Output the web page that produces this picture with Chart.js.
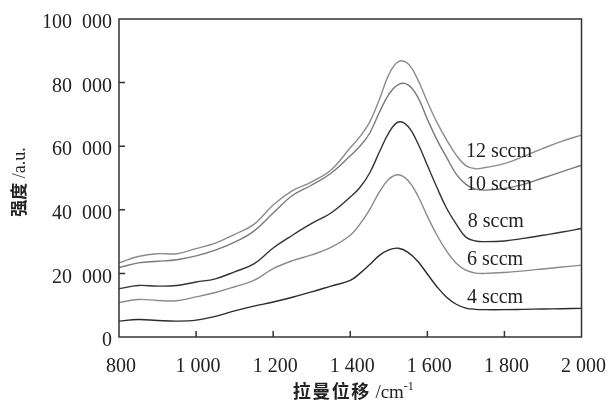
<!DOCTYPE html>
<html lang="zh">
<head>
    <meta charset="utf-8"/>
    <script src="https://cdn.jsdelivr.net/npm/chart.js@4.4.1/dist/chart.umd.min.js"></script>
    <style>
        body { margin: 0; background: #fff; }
    </style>
</head>
<body>
    <canvas id="raman" width="614" height="402"></canvas>
    <script>
        // Raman shift (cm-1) sample positions
        const ramanShift = [800, 850, 900, 950, 1000, 1050, 1100, 1150, 1200, 1250, 1300, 1350, 1400, 1425, 1450, 1475,
            1500, 1525, 1550, 1575, 1600, 1625, 1650, 1675, 1700, 1725, 1750, 1800, 1850, 1900, 1950, 2000];

        // intensity (a.u.) per flow rate
        const sccm4 = [5000, 5500, 5200, 5000, 5300, 6500, 8200, 9700, 11000, 12500, 14200, 16000, 17800, 20000, 22700, 25600,
            27400, 27900, 26600, 23800, 19800, 15800, 12500, 10300, 9100, 8700, 8600, 8600, 8700, 8800, 8900, 9000];
        const sccm6 = [10800, 11800, 11500, 11400, 12600, 14000, 15800, 17800, 21500, 24000, 25800, 28200, 32000, 35500, 40000, 45500,
            49600, 51000, 49200, 44500, 38000, 32000, 27000, 23200, 21000, 20100, 20000, 20300, 20800, 21400, 22000, 22600];
        const sccm8 = [15200, 16200, 16000, 16200, 17300, 18300, 20500, 23000, 28000, 32000, 35700, 39000, 44000, 47000, 51500, 58000,
            64200, 67600, 66200, 61000, 54000, 47000, 40500, 35500, 31400, 30200, 30000, 30200, 31000, 32000, 33000, 34100];
        const sccm10 = [21800, 23300, 23800, 24300, 25500, 27300, 29800, 33300, 39000, 44500, 47800, 51500, 57000, 60000, 64000, 70500,
            76300, 79400, 79300, 75500, 68500, 62000, 56500, 51200, 48000, 46500, 46200, 46700, 48000, 50000, 52000, 54000];
        const sccm12 = [23300, 25300, 26200, 26200, 27800, 29500, 32300, 35400, 41500, 46000, 48800, 52500, 59500, 63000, 67500, 74500,
            82500, 86600, 85900, 81000, 74000, 67500, 62000, 57200, 53900, 52900, 53300, 54500, 56800, 59300, 61600, 63500];

        // in-plot curve labels: text, x (cm-1), y baseline (a.u.)
        const curveLabels = ["12 sccm", "10 sccm", "8 sccm", "6 sccm", "4 sccm"];
        const labelX = [1700, 1700, 1705, 1703, 1703];
        const labelY = [56500, 46100, 34500, 22600, 10600];

        const xTicks = [800, 1000, 1200, 1400, 1600, 1800, 2000];
        const yTicks = [0, 20000, 40000, 60000, 80000, 100000];

        const SERIF = '"Liberation Serif", "DejaVu Serif", serif';
        const CJK = '"Noto Sans CJK SC", sans-serif';

        function groupDigits(v, sep) {
            var s = String(v);
            if (s.length <= 3) return s;
            return s.slice(0, -3) + sep + s.slice(-3);
        }

        function series(values) {
            return values.map(function(v, i) { return {x: ramanShift[i], y: v}; });
        }

        function dataset(values, color) {
            return {
                data: series(values),
                borderColor: color,
                borderWidth: 1.4,
                pointRadius: 0,
                fill: false,
                tension: 0.4
            };
        }

        const framePlugin = {
            id: 'frame',
            afterDraw(chart) {
                const ctx = chart.ctx;
                const area = chart.chartArea;
                const xs = chart.scales.x, ys = chart.scales.y;
                ctx.save();
                ctx.strokeStyle = '#333';
                ctx.lineWidth = 1.5;
                ctx.strokeRect(area.left, area.top, area.right - area.left, area.bottom - area.top);
                ctx.beginPath();
                xTicks.slice(1, -1).forEach(function(t) {
                    var px = xs.getPixelForValue(t);
                    ctx.moveTo(px, area.bottom);
                    ctx.lineTo(px, area.bottom - 6);
                });
                yTicks.slice(1, -1).forEach(function(t) {
                    var py = ys.getPixelForValue(t);
                    ctx.moveTo(area.left, py);
                    ctx.lineTo(area.left + 6, py);
                });
                ctx.stroke();

                // curve labels
                ctx.fillStyle = '#222';
                ctx.font = '20px ' + SERIF;
                ctx.textBaseline = 'alphabetic';
                ctx.textAlign = 'left';
                curveLabels.forEach(function(txt, i) {
                    ctx.fillText(txt, xs.getPixelForValue(labelX[i]), ys.getPixelForValue(labelY[i]));
                });

                // x axis title
                ctx.font = 'bold 18px ' + CJK;
                ctx.letterSpacing = '1.5px';
                var cn = '拉曼位移';
                var cnW = ctx.measureText(cn).width;
                ctx.font = '19px ' + SERIF;
                ctx.letterSpacing = '0px';
                var unit = ' /cm';
                var unitW = ctx.measureText(unit).width;
                ctx.font = '12px ' + SERIF;
                var supW = ctx.measureText('-1').width;
                var total = cnW + unitW + supW;
                var x0 = (area.left + area.right) / 2 - total / 2 + 3;
                var base = 398;
                ctx.font = 'bold 18px ' + CJK;
                ctx.letterSpacing = '1.5px';
                ctx.fillText(cn, x0, base);
                ctx.letterSpacing = '0px';
                ctx.font = '19px ' + SERIF;
                ctx.fillText(unit, x0 + cnW, base);
                ctx.font = '12px ' + SERIF;
                ctx.fillText('-1', x0 + cnW + unitW, base - 8);

                // y axis title
                ctx.translate(25, 182);
                ctx.rotate(-Math.PI / 2);
                ctx.font = 'bold 17px ' + CJK;
                var yc = '强度';
                var ycW = ctx.measureText(yc).width;
                ctx.font = '18px ' + SERIF;
                var yu = ' /a.u.';
                var yuW = ctx.measureText(yu).width;
                var y0 = -(ycW + yuW) / 2;
                ctx.font = 'bold 17px ' + CJK;
                ctx.fillText(yc, y0, 0);
                ctx.font = '18px ' + SERIF;
                ctx.fillText(yu, y0 + ycW, 0);
                ctx.restore();
            }
        };

        new Chart(document.getElementById('raman'), {
            type: 'line',
            data: {
                datasets: [
                    dataset(sccm4, '#2b2b2b'),
                    dataset(sccm6, '#8a8a8a'),
                    dataset(sccm8, '#333333'),
                    dataset(sccm10, '#7a7a7a'),
                    dataset(sccm12, '#8c8c8c')
                ]
            },
            options: {
                responsive: false,
                animation: false,
                events: [],
                layout: { padding: { left: 0, right: 27, top: 18, bottom: 0 } },
                plugins: { legend: { display: false }, tooltip: { enabled: false } },
                scales: {
                    x: {
                        type: 'linear',
                        min: 800,
                        max: 2000,
                        afterBuildTicks: function(s) { s.ticks = xTicks.map(function(v) { return {value: v}; }); },
                        afterFit: function(s) { s.height = 65; },
                        grid: { display: false },
                        border: { display: false },
                        ticks: {
                            color: '#222',
                            padding: 10,
                            labelOffset: 2,
                            maxRotation: 0,
                            autoSkip: false,
                            font: { family: SERIF, size: 20 },
                            callback: function(v) { return groupDigits(v, ' '); }
                        }
                    },
                    y: {
                        min: 0,
                        max: 100000,
                        afterBuildTicks: function(s) { s.ticks = yTicks.map(function(v) { return {value: v}; }); },
                        afterFit: function(s) { s.width = 119; },
                        grid: { display: false, drawTicks: false },
                        border: { display: false },
                        ticks: {
                            color: '#222',
                            padding: 7,
                            labelOffset: 4,
                            autoSkip: false,
                            font: { family: SERIF, size: 20 },
                            callback: function(v) { return groupDigits(v, '\u2002'); }
                        }
                    }
                }
            },
            plugins: [framePlugin]
        });
    </script>
</body>
</html>
